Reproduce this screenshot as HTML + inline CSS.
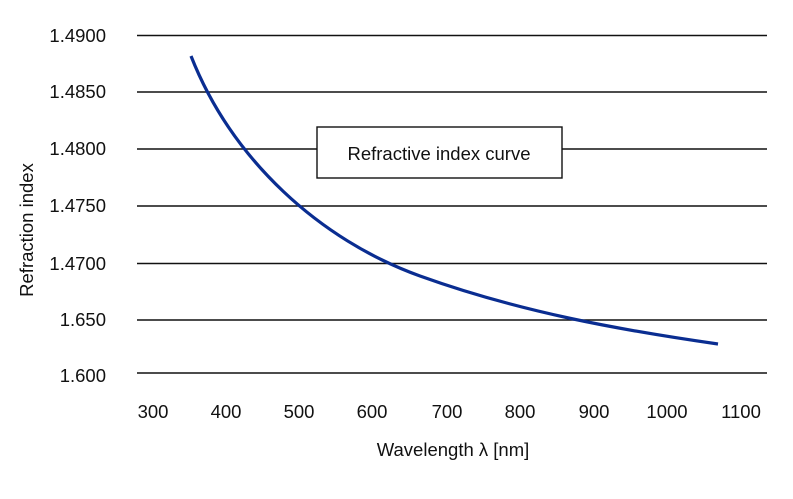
<!DOCTYPE html>
<html><head><style>body{margin:0;background:#fff}</style></head><body>
<svg width="793" height="494" xmlns="http://www.w3.org/2000/svg" font-family="Liberation Sans, sans-serif">
<rect width="793" height="494" fill="#fff"/>
<g stroke="#111" stroke-width="1.6">
<line x1="137" y1="35.5" x2="767" y2="35.5"/>
<line x1="137" y1="92" x2="767" y2="92"/>
<line x1="137" y1="149" x2="767" y2="149"/>
<line x1="137" y1="206" x2="767" y2="206"/>
<line x1="137" y1="263.5" x2="767" y2="263.5"/>
<line x1="137" y1="320" x2="767" y2="320"/>
<line x1="137" y1="373" x2="767" y2="373"/>
</g>
<g font-size="18.5" fill="#111" text-anchor="end">
<text x="106" y="42">1.4900</text>
<text x="106" y="98">1.4850</text>
<text x="106" y="155">1.4800</text>
<text x="106" y="212">1.4750</text>
<text x="106" y="270">1.4700</text>
<text x="106" y="326">1.650</text>
<text x="106" y="382">1.600</text>
</g>
<g font-size="18.5" fill="#111" text-anchor="middle">
<text x="153" y="418">300</text>
<text x="226" y="418">400</text>
<text x="299" y="418">500</text>
<text x="372" y="418">600</text>
<text x="447" y="418">700</text>
<text x="520" y="418">800</text>
<text x="594" y="418">900</text>
<text x="667" y="418">1000</text>
<text x="741" y="418">1100</text>
<text x="453" y="456">Wavelength λ [nm]</text>
<text transform="translate(33,230) rotate(-90)">Refraction index</text>
</g>
<rect x="317" y="127" width="245" height="51" fill="#fff" stroke="#111" stroke-width="1.4"/>
<text x="439" y="160" font-size="18.5" text-anchor="middle" fill="#111">Refractive index curve</text>
<path d="M191,56 C232,160 320,240 420,276 S620,330 718,344" fill="none" stroke="#0a2d91" stroke-width="3.2"/>
</svg>
</body></html>
